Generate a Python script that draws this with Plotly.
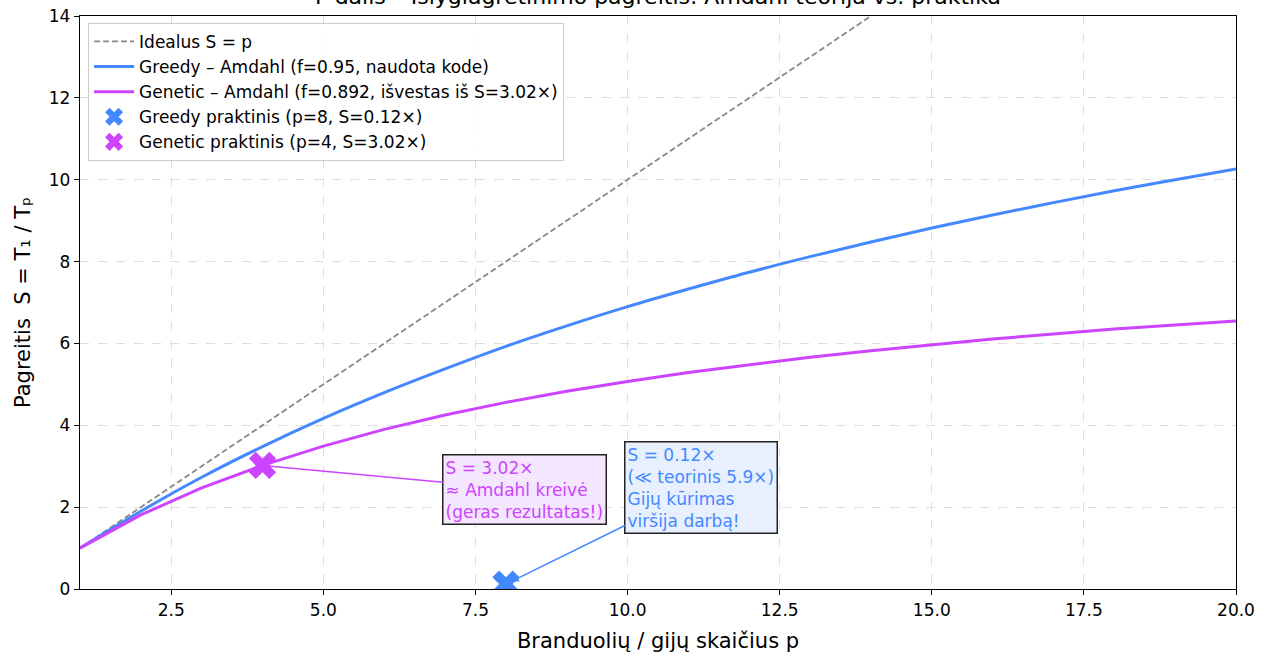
import plotly.graph_objects as go

p_vals = list(range(1, 21))
greedy_amdahl = [1.00, 1.90, 2.73, 3.48, 4.17, 4.80, 5.38, 5.93, 6.43, 6.90,
                 7.33, 7.74, 8.12, 8.48, 8.82, 9.14, 9.44, 9.73, 10.00, 10.26]
genetic_amdahl = [1.00, 1.81, 2.47, 3.02, 3.49, 3.90, 4.25, 4.56, 4.83, 5.07,
                  5.29, 5.48, 5.66, 5.82, 5.97, 6.11, 6.23, 6.35, 6.45, 6.55]
ideal_p = [1, 20]
ideal_s = [1, 20]
greedy_pt = (8, 0.12)
genetic_pt = (4, 3.02)
x_ticks = [2.5, 5.0, 7.5, 10.0, 12.5, 15.0, 17.5, 20.0]
y_ticks = [0, 2, 4, 6, 8, 10, 12, 14]

BLUE = "#4488ff"
MAG = "#cc44ff"
FONT = "DejaVu Sans"

fig = go.Figure()
fig.add_trace(go.Scatter(x=ideal_p, y=ideal_s, mode="lines", name="Idealus S = p",
                         line=dict(color="#888888", width=1.8, dash="6px,3px")))
fig.add_trace(go.Scatter(x=p_vals, y=greedy_amdahl, mode="lines",
                         name="Greedy – Amdahl (f=0.95, naudota kode)",
                         line=dict(color=BLUE, width=3, shape="spline")))
fig.add_trace(go.Scatter(x=p_vals, y=genetic_amdahl, mode="lines",
                         name="Genetic – Amdahl (f=0.892, išvestas iš S=3.02×)",
                         line=dict(color=MAG, width=3)))
fig.add_trace(go.Scatter(x=[greedy_pt[0]], y=[greedy_pt[1]], mode="markers",
                         name="Greedy praktinis (p=8, S=0.12×)",
                         marker=dict(symbol="x", size=24, color=BLUE, line=dict(width=0))))
fig.add_trace(go.Scatter(x=[genetic_pt[0]], y=[genetic_pt[1]], mode="markers",
                         name="Genetic praktinis (p=4, S=3.02×)",
                         marker=dict(symbol="x", size=24, color=MAG, line=dict(width=0))))

fig.add_annotation(x=genetic_pt[0], y=genetic_pt[1], xref="x", yref="y",
                   ax=8.31, ay=2.42, axref="x", ayref="y",
                   text="S = 3.02×<br>≈ Amdahl kreivė<br>(geras rezultatas!)",
                   align="left", showarrow=True, arrowhead=0, arrowwidth=1.5,
                   arrowcolor=MAG, font=dict(family=FONT, size=17, color=MAG),
                   bgcolor="#f5e6ff", bordercolor="#222222", borderwidth=1.5, borderpad=2)
fig.add_annotation(x=greedy_pt[0], y=greedy_pt[1], xref="x", yref="y",
                   ax=11.21, ay=2.47, axref="x", ayref="y",
                   text="S = 0.12×<br>(≪ teorinis 5.9×)<br>Gijų kūrimas<br>viršija darbą!",
                   align="left", showarrow=True, arrowhead=2, arrowsize=1, arrowwidth=1.5,
                   arrowcolor=BLUE, standoff=6, font=dict(family=FONT, size=17, color=BLUE),
                   bgcolor="#e8f0ff", bordercolor="#222222", borderwidth=1.5, borderpad=2)

fig.add_annotation(x=0.5, y=1.0087, xref="paper", yref="paper", xanchor="center",
                   yanchor="bottom", showarrow=False,
                   text="F dalis – Išlygiagretinimo pagreitis: Amdahl teorija vs. praktika",
                   font=dict(family=FONT, size=22, color="#000000"))

axis_common = dict(showline=True, linecolor="#000000", linewidth=1.3, mirror=True,
                   ticks="outside", ticklen=5, tickcolor="#000000", automargin=False,
                   ticklabeloverflow="allow",
                   showgrid=True, gridcolor="#dedede", griddash="dash", gridwidth=1,
                   zeroline=False, tickfont=dict(family=FONT, size=17, color="#000000"))

fig.update_layout(
    width=1276, height=661,
    margin=dict(l=80, r=40, t=16, b=72),
    plot_bgcolor="white", paper_bgcolor="white",
    font=dict(family=FONT, size=17, color="#000000"),
    showlegend=True,
    legend=dict(x=0.007, y=0.988, xanchor="left", yanchor="top",
                bgcolor="rgba(255,255,255,0.85)", bordercolor="#cccccc", borderwidth=1,
                font=dict(family=FONT, size=17), itemwidth=40, tracegroupgap=0),
    xaxis=dict(range=[1, 20], tickvals=x_ticks, tickformat=".1f",
               title=dict(text="Branduolių / gijų skaičius p", font=dict(family=FONT, size=21), standoff=14),
               **axis_common),
    yaxis=dict(range=[0, 14], tickvals=y_ticks,
               title=dict(text="Pagreitis  S = T₁ / Tₚ", font=dict(family=FONT, size=21), standoff=12),
               **axis_common),
)

fig.write_html("out.html", config={"displayModeBar": False},
               post_script="document.body.style.margin='0';document.body.style.overflow='hidden';")
